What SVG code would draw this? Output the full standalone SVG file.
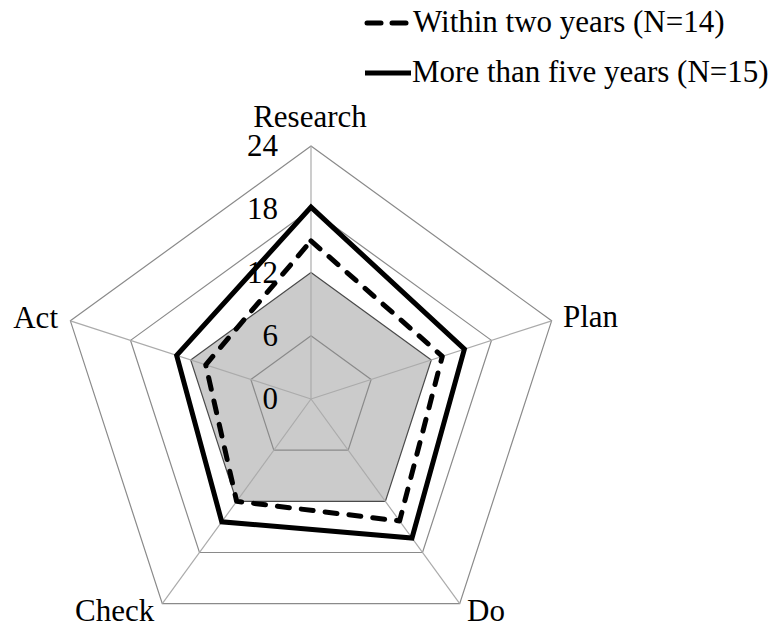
<svg xmlns="http://www.w3.org/2000/svg" width="781" height="627" viewBox="0 0 781 627" font-family="'Liberation Serif', 'DejaVu Serif', serif">
<style>
text{font-family:'Liberation Serif','DejaVu Serif',serif;font-size:31px;fill:#000}
.ring{fill:none;stroke:#8a8a8a;stroke-width:1.2}
.spoke{stroke:#ababab;stroke-width:1.2}
.solid{fill:none;stroke:#000;stroke-width:5;stroke-linejoin:miter}
.dash{fill:none;stroke:#000;stroke-width:5;stroke-dasharray:12 12;stroke-linecap:round;stroke-linejoin:round}
.ax{text-anchor:end}
</style>
<rect width="781" height="627" fill="#fff"/>
<g id="plot-area">
<polygon id="grey-area" points="311,272.5 431.31,359.91 385.36,501.34 236.64,501.34 190.69,359.91" fill="#cbcbcb" stroke="#4a4a4a" stroke-width="1.2"/>
<g id="grid">
<polygon class="ring" points="311,146 551.62,320.82 459.71,603.68 162.29,603.68 70.38,320.82"/>
<polygon class="ring" points="311,209.25 491.46,340.36 422.53,552.51 199.47,552.51 130.54,340.36"/>
<polygon class="ring" points="311,335.75 371.15,379.45 348.18,450.17 273.82,450.17 250.85,379.45"/>
<line class="spoke" x1="311" y1="399" x2="311" y2="146"/>
<line class="spoke" x1="311" y1="399" x2="551.62" y2="320.82"/>
<line class="spoke" x1="311" y1="399" x2="459.71" y2="603.68"/>
<line class="spoke" x1="311" y1="399" x2="162.29" y2="603.68"/>
<line class="spoke" x1="311" y1="399" x2="70.38" y2="320.82"/>
</g>
</g>
<g id="connectors">
<polygon id="series-within-two-years" class="dash" points="311,240.87 442.3,356.3 399.61,520.96 236.64,501.34 205.73,364.8"/>
<polygon id="series-more-than-five-years" class="solid" points="311,207.14 464.4,349.16 412,538 221.77,521.81 176.65,355.35"/>
</g>
<g id="axis-labels" font-family="'Liberation Serif', serif">
<text class="ax" x="278" y="156">24</text>
<text class="ax" x="278" y="219">18</text>
<text class="ax" x="278" y="283">12</text>
<text class="ax" x="278" y="346">6</text>
<text class="ax" x="278" y="409">0</text>
</g>
<g id="node-research"><text x="310" y="127" text-anchor="middle">Research</text></g>
<g id="node-plan"><text x="563" y="327">Plan</text></g>
<g id="node-do"><text x="467" y="621">Do</text></g>
<g id="node-check"><text x="75" y="621">Check</text></g>
<g id="node-act"><text x="58" y="328" text-anchor="end">Act</text></g>
<g id="legend">
<line x1="367" y1="23" x2="381" y2="23" stroke="#000" stroke-width="5" stroke-linecap="round"/>
<line x1="392" y1="23" x2="406" y2="23" stroke="#000" stroke-width="5" stroke-linecap="round"/>
<text x="413" y="32">Within two years (N=14)</text>
<line x1="365" y1="73" x2="411" y2="73" stroke="#000" stroke-width="5"/>
<text x="412" y="82">More than five years (N=15)</text>
</g>
</svg>
